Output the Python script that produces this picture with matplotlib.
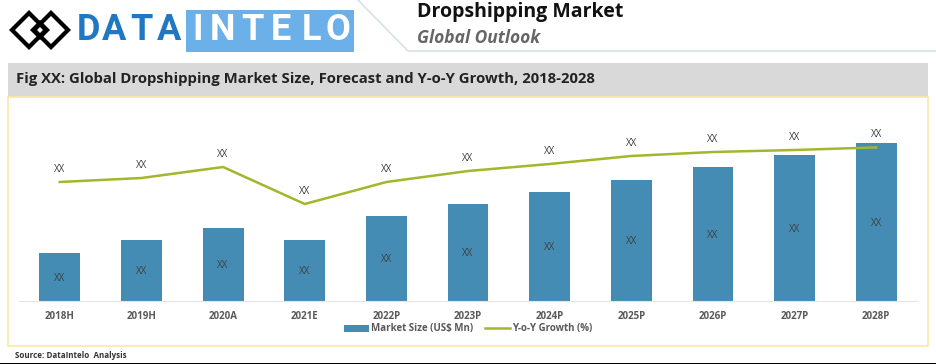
#!/usr/bin/env python3
"""Dropshipping market chart: bars + growth line, with the report header."""
import matplotlib
matplotlib.use("Agg")
import matplotlib.pyplot as plt
from matplotlib.patches import Polygon, Rectangle

plt.rcParams["font.family"] = ["Open Sans", "DejaVu Sans"]

W, H = 936, 364

years = ["2018H", "2019H", "2020A", "2021E", "2022P", "2023P",
         "2024P", "2025P", "2026P", "2027P", "2028P"]
market_size = [24, 30.5, 36.5, 30.5, 42.5, 48.5, 54.5, 60.5, 67, 73, 79]
yoy_growth = [59.5, 61.5, 67, 48.5, 59.5, 65, 68.5, 72.5, 74.5, 75.5, 76.8]
bar_labels = ["XX"] * len(years)
line_labels = ["XX"] * len(years)

BLUE = "#458cb5"
GREEN = "#a3b62c"
GREY = "#595959"

fig = plt.figure(figsize=(W / 100, H / 100), dpi=100, facecolor="white")

# page furniture is drawn in pixel coordinates
bg = fig.add_axes([0, 0, 1, 1])
bg.set_xlim(0, W)
bg.set_ylim(H, 0)
bg.axis("off")


def diamond(cx, cy, r, fc, z):
    bg.add_patch(Polygon([(cx - r, cy), (cx, cy - r), (cx + r, cy), (cx, cy + r)],
                         closed=True, fc=fc, ec="none", zorder=z))


# logo mark: two interlocked diamond outlines
for cx in (29, 51):
    diamond(cx, 30, 20, "black", 2)
for cx in (29, 51):
    diamond(cx, 30, 14, "white", 3)
diamond(40, 30, 10, "black", 4)
diamond(40, 30, 3, "white", 5)

for x, ch in zip((88, 114, 141, 169), "DATA"):
    bg.text(x, 30.5, ch, color="#1f78c1", fontsize=26, fontweight="bold",
            family="Roboto", ha="center", va="center")
bg.add_patch(Rectangle((186, 10), 168, 42, fc="#6cb0ea", ec="none"))
for x, ch in zip((198, 222, 252, 281, 311, 338), "INTELO"):
    bg.text(x, 30.5, ch, color="white", fontsize=26, fontweight="bold",
            family="Roboto", ha="center", va="center")

# title block
bg.plot([358, 408, 936], [0, 51, 51], color="#d5e3e6", lw=1.2)
bg.text(417, 12, "Dropshipping Market", color="#111111", fontsize=14,
        fontweight="bold", ha="left", va="center")
bg.text(417, 38, "Global Outlook", color="#666666", fontsize=12.5,
        fontweight="bold", style="italic", ha="left", va="center")

# grey heading band and yellow frame
bg.add_patch(Rectangle((8, 63), 920, 34, fc="#d9d9d9", ec="none"))
bg.text(16, 79, "Fig XX: Global Dropshipping Market Size, Forecast and Y-o-Y Growth, 2018-2028",
        color="#222222", fontsize=10.7, fontweight="bold", ha="left", va="center")
bg.add_patch(Rectangle((8, 97), 920, 248.5, fc="none", ec="#fbe7a6", lw=1.2))

bg.text(15, 355, "Source: DataIntelo  Analysis", color="#333333", fontsize=5.8,
        fontweight="bold", ha="left", va="center")
bg.add_patch(Rectangle((0, 362.5), W, 1.5, fc="black", ec="none"))

# chart: 2 px per unit, baseline at y=301
ax = fig.add_axes([19 / W, (H - 301) / H, 898 / W, 200 / H])
ax.patch.set_alpha(0)
ax.set_xlim(-0.5, len(years) - 0.5)
ax.set_ylim(0, 100)
xs = list(range(len(years)))

bars = ax.bar(xs, market_size, width=0.5, color=BLUE, zorder=2,
              label="Market Size (US$ Mn)")
for x, v, s in zip(xs, market_size, bar_labels):
    ax.annotate(s, (x, v / 2), xytext=(0, -1), textcoords="offset points",
                ha="center", va="center", fontsize=7, color="#404040", zorder=4)

ax2 = ax.twinx()
ax2.set_ylim(0, 100)
ax2.axis("off")
line, = ax2.plot(xs, yoy_growth, color=GREEN, lw=1.8, zorder=3,
                 label="Y-o-Y Growth (%)")
for x, v, s in zip(xs, yoy_growth, line_labels):
    ax2.annotate(s, (x, v), xytext=(0, 5), textcoords="offset points",
                 ha="center", va="bottom", fontsize=7, color="#404040")

for side in ("top", "left", "right"):
    ax.spines[side].set_visible(False)
ax.spines["bottom"].set_color("#e4e4e4")
ax.set_yticks([])
ax.set_xticks(xs)
ax.set_xticklabels(years, fontsize=7, fontweight="bold", color=GREY)
ax.tick_params(axis="x", length=0, pad=7.5)

fig.legend(handles=[bars, line], loc="center", ncol=2, frameon=False,
           bbox_to_anchor=(468 / W, 1 - 329 / H), fontsize=7,
           labelcolor=GREY, handlelength=2.6, handletextpad=0.2,
           columnspacing=1.2, prop={"weight": "bold", "size": 7})

fig.savefig("out.png", dpi=100)
